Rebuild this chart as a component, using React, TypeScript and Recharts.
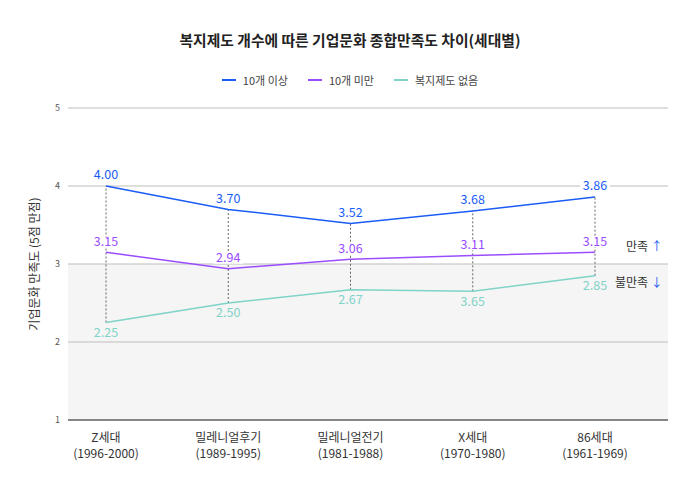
import React from 'react';
import {
  LineChart,
  Line,
  XAxis,
  YAxis,
  CartesianGrid,
  LabelList,
  ErrorBar,
} from 'recharts';

const generations = ['Z세대', '밀레니얼후기', '밀레니얼전기', 'X세대', '86세대'];
const birthYears = ['(1996-2000)', '(1989-1995)', '(1981-1988)', '(1970-1980)', '(1961-1969)'];

const over10 = [4.0, 3.7, 3.52, 3.68, 3.86];
const under10 = [3.15, 2.94, 3.06, 3.11, 3.15];
const noWelfare = [2.25, 2.5, 2.67, 2.65, 2.85];
// labels as printed on the original (X세대 reads 3.65)
const noWelfareLabels = ['2.25', '2.50', '2.67', '3.65', '2.85'];

const yTicks = [1, 2, 3, 4, 5];

const BLUE = '#1a5cf5';
const PURPLE = '#9a4dff';
const TEAL = '#7fd3c7';
const FONT = '"Noto Sans CJK KR", "Noto Sans", sans-serif';

const data = generations.map((g, i) => ({
  name: g,
  over10: over10[i],
  under10: under10[i],
  none: noWelfare[i],
  noneLabel: noWelfareLabels[i],
  gap: [over10[i] - noWelfare[i], 0],
}));

const legendItems = [
  { label: '10개 이상', color: BLUE },
  { label: '10개 미만', color: PURPLE },
  { label: '복지제도 없음', color: TEAL },
];

function XTick(props: any) {
  const { x, y, payload, index } = props;
  return (
    <g transform={`translate(${x},${y})`}>
      <text textAnchor="middle" fontSize={12} fill="#333" fontFamily={FONT}>
        <tspan x={0} dy={14}>{payload.value}</tspan>
        <tspan x={0} dy={16}>{birthYears[index]}</tspan>
      </text>
    </g>
  );
}

function makeLabel(color: string, below: boolean, bg: boolean) {
  return (props: any) => {
    const { x, y, value } = props;
    const ty = below ? y + 11 : y - 10;
    return (
      <g>
        {bg && <rect x={x - 15} y={ty - 5} width={30} height={10} fill="#fff" />}
        <text
          x={x}
          y={ty}
          textAnchor="middle"
          dominantBaseline="middle"
          fontSize={12.5}
          fill={color}
          fontFamily={FONT}
        >
          {typeof value === 'number' ? value.toFixed(2) : value}
        </text>
      </g>
    );
  };
}

export default function App() {
  return (
    <div style={{ position: 'relative', width: 700, height: 488, background: '#fff', fontFamily: FONT }}>
      <style>{'body{margin:0}'}</style>
      <div
        style={{
          position: 'absolute',
          top: 29,
          width: 700,
          textAlign: 'center',
          fontSize: 14.8,
          fontWeight: 600,
          color: '#222',
        }}
      >
        복지제도 개수에 따른 기업문화 종합만족도 차이(세대별)
      </div>
      <div
        style={{
          position: 'absolute',
          top: 72,
          width: 700,
          display: 'flex',
          justifyContent: 'center',
          gap: 20,
          fontSize: 11,
          color: '#444',
        }}
      >
        {legendItems.map((it) => (
          <div key={it.label} style={{ display: 'flex', alignItems: 'center', gap: 7 }}>
            <span style={{ display: 'inline-block', width: 14, height: 2, background: it.color }} />
            <span>{it.label}</span>
          </div>
        ))}
      </div>

      <div style={{ position: 'absolute', left: 0, top: 0 }}>
        <LineChart width={700} height={488} data={data} margin={{ top: 108, right: 32, bottom: 28, left: 8 }}>
          <CartesianGrid
            vertical={false}
            stroke="#bdbdbd"
            horizontalFill={['#ffffff', '#ffffff', '#f5f5f5', '#f5f5f5', '#ffffff']}
            fillOpacity={1}
          />
          <XAxis
            dataKey="name"
            tick={<XTick />}
            tickLine={false}
            axisLine={{ stroke: '#333', strokeWidth: 1.2 }}
            padding={{ left: 38, right: 73 }}
            height={40}
            interval={0}
          />
          <YAxis
            domain={[1, 5]}
            ticks={yTicks}
            width={60}
            axisLine={false}
            tickLine={false}
            tick={{ fontSize: 9, fill: '#555', fontFamily: FONT }}
            tickMargin={2}
            label={{
              value: '기업문화 만족도 (5점 만점)',
              angle: -90,
              position: 'insideLeft',
              dx: 22,
              style: { textAnchor: 'middle', fontSize: 12, fill: '#333', fontFamily: FONT },
            }}
          />
          <Line
            dataKey="over10"
            stroke={BLUE}
            strokeWidth={1.5}
            dot={false}
            isAnimationActive={false}
          >
            <ErrorBar
              dataKey="gap"
              width={0}
              stroke="#666"
              strokeWidth={1}
              strokeDasharray="2 2"
              isAnimationActive={false}
            />
            <LabelList dataKey="over10" content={makeLabel(BLUE, false, true)} />
          </Line>
          <Line
            dataKey="under10"
            stroke={PURPLE}
            strokeWidth={1.5}
            dot={false}
            isAnimationActive={false}
          >
            <LabelList dataKey="under10" content={makeLabel(PURPLE, false, true)} />
          </Line>
          <Line
            dataKey="none"
            stroke={TEAL}
            strokeWidth={1.5}
            dot={false}
            isAnimationActive={false}
          >
            <LabelList dataKey="noneLabel" content={makeLabel(TEAL, true, false)} />
          </Line>
        </LineChart>
      </div>

      <div style={{ position: 'absolute', left: 626, top: 237, fontSize: 12, color: '#333' }}>
        만족 <span style={{ color: BLUE }}>↑</span>
      </div>
      <div style={{ position: 'absolute', left: 615, top: 273, fontSize: 12, color: '#333' }}>
        불만족 <span style={{ color: BLUE }}>↓</span>
      </div>
    </div>
  );
}
